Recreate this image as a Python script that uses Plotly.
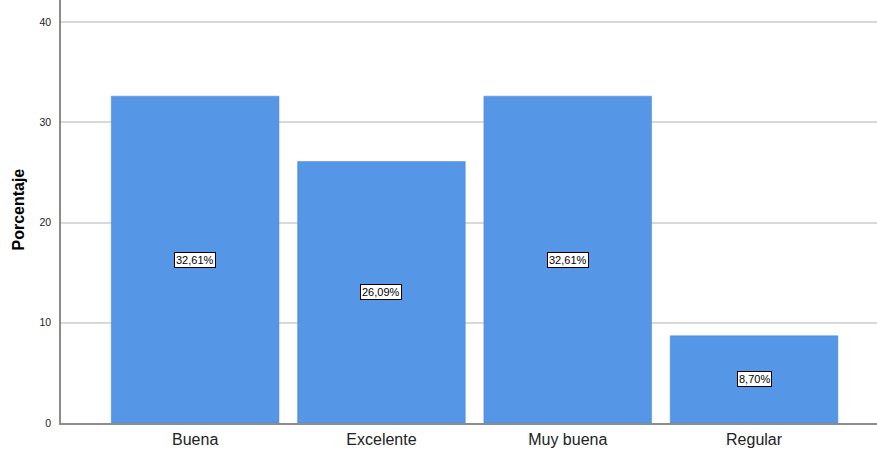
import plotly.graph_objects as go

categories = ["Buena", "Excelente", "Muy buena", "Regular"]
percentages = [32.61, 26.09, 32.61, 8.70]
labels = ["32,61%", "26,09%", "32,61%", "8,70%"]
y_ticks = [0, 10, 20, 30, 40]

fig = go.Figure()
fig.add_trace(go.Bar(
    x=categories, y=percentages,
    marker=dict(color="#5596E6", line=dict(color="#4A86D4", width=0.5)),
    hoverinfo="skip",
))

for c, v, t in zip(categories, percentages, labels):
    fig.add_annotation(
        x=c, y=v / 2, text=t, showarrow=False,
        font=dict(family="Liberation Sans, Arial", size=11, color="#000000"),
        bgcolor="#ffffff", bordercolor="#000000", borderwidth=1, borderpad=1,
    )

fig.update_layout(
    width=877, height=452,
    margin=dict(l=61, r=0, t=0, b=29, autoexpand=False),
    paper_bgcolor="#ffffff", plot_bgcolor="#ffffff",
    bargap=0.1,
    showlegend=False,
    font=dict(family="Liberation Sans, Arial", color="#222222"),
    xaxis=dict(
        range=[-0.72, 3.66], showgrid=False, automargin=False,
        showline=True, linecolor="#8c8c8c", linewidth=1.5,
        ticks="", ticklabelstandoff=1, tickfont=dict(size=16, color="#222222"),
    ),
    yaxis=dict(
        range=[0, 42.2], tickvals=y_ticks, automargin=False,
        showgrid=True, gridcolor="#d9d9d9", gridwidth=1.5,
        showline=True, linecolor="#8c8c8c", linewidth=1.5,
        zeroline=False, ticks="", ticklabelstandoff=6,
        tickfont=dict(size=10.5, color="#222222"),
    ),
)

fig.add_annotation(
    text="<b>Porcentaje</b>", xref="paper", yref="paper", x=-0.0525, y=0.505,
    xanchor="center", yanchor="middle", textangle=-90, showarrow=False,
    font=dict(family="Liberation Sans, Arial", size=16, color="#000000"),
)

fig.write_html(
    "out.html",
    config={"displayModeBar": False},
    post_script="document.body.style.margin='0';document.body.style.padding='0';",
)
